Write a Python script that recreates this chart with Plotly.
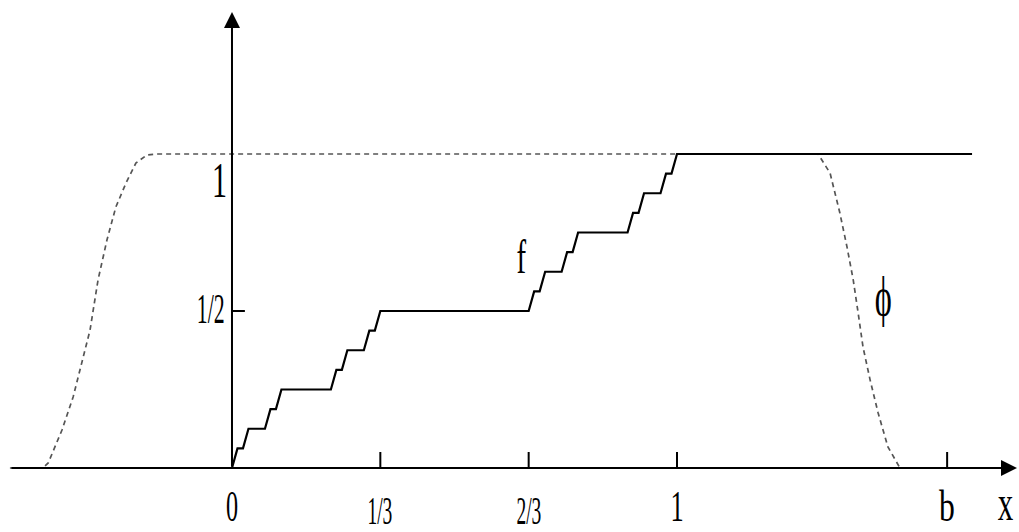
import json
import plotly.graph_objects as go

# Cantor function f (level-4 staircase), x in units of 1/81, y in units of 1/16
cantor_x81 = [0, 1, 2, 3, 6, 7, 8, 9, 18, 19, 20, 21, 24, 25, 26, 27,
              54, 55, 56, 57, 60, 61, 62, 63, 72, 73, 74, 75, 78, 79, 80, 81]
cantor_y16 = [0, 1, 1, 2, 2, 3, 3, 4, 4, 5, 5, 6, 6, 7, 7, 8,
              8, 9, 9, 10, 10, 11, 11, 12, 12, 13, 13, 14, 14, 15, 15, 16]
f_tail_x = [1.663]
f_tail_y = [1.0]

# cutoff function phi
phi_x = [-0.499, -0.425, -0.413, -0.382, -0.357, -0.337, -0.319, -0.301, -0.281,
         -0.261, -0.238, -0.216, -0.191, -0.169, 1.317, 1.344, 1.366, 1.382,
         1.396, 1.407, 1.418, 1.434, 1.452, 1.474, 1.501, 1.663]
phi_y = [0.0, 0.0, 0.016, 0.121, 0.226, 0.334, 0.439, 0.599, 0.726,
         0.831, 0.908, 0.971, 0.997, 1.0, 1.0, 0.939, 0.812, 0.704,
         0.599, 0.494, 0.385, 0.280, 0.175, 0.067, 0.0, 0.0]

b_value = 1.607
x_ticks = [1/3, 2/3, 1, b_value]
x_tick_labels = ["0", "1/3", "2/3", "1", "b"]
x_label_pos = [0, 1/3, 2/3, 1, b_value]
y_ticks = [0.5]
y_tick_labels = ["1/2", "1"]
y_label_pos = [0.5, 1]

x_axis_span = [-0.499, 1.764]
y_axis_top = 1.452

f_x = [v / 81 for v in cantor_x81] + f_tail_x
f_y = [v / 16 for v in cantor_y16] + f_tail_y

fig = go.Figure()
fig.add_trace(go.Scatter(x=phi_x, y=phi_y, mode="lines",
                         line=dict(color="#555555", width=1.7, dash="5px,4px"),
                         hoverinfo="skip", showlegend=False))
fig.add_trace(go.Scatter(x=f_x, y=f_y, mode="lines",
                         line=dict(color="black", width=2.2),
                         hoverinfo="skip", showlegend=False))

serif = "Liberation Serif, Times New Roman, serif"
ann = []
# axes with arrowheads
ann.append(dict(x=x_axis_span[1], y=0, ax=x_axis_span[0], ay=0, xref="x", yref="y",
                axref="x", ayref="y", showarrow=True, arrowhead=2, arrowsize=1.6,
                arrowwidth=2, arrowcolor="black", text=""))
ann.append(dict(x=0, y=y_axis_top, ax=0, ay=0, xref="x", yref="y",
                axref="x", ayref="y", showarrow=True, arrowhead=2, arrowsize=1.6,
                arrowwidth=2, arrowcolor="black", text=""))

shapes = []
for t in x_ticks:
    shapes.append(dict(type="line", xref="x", yref="y", x0=t, x1=t, y0=0, y1=0.051,
                       line=dict(color="black", width=2)))
for t in y_ticks:
    shapes.append(dict(type="line", xref="x", yref="y", x0=0, x1=0.029, y0=t, y1=t,
                       line=dict(color="black", width=2)))

# x labels
x_label_sizes = [44, 39, 39, 44, 44]
x_label_shift = [-38, -42, -42, -38, -38]
for lab, pos, sz, sh in zip(x_tick_labels, x_label_pos, x_label_sizes, x_label_shift):
    ann.append(dict(x=pos, y=0, xref="x", yref="y", text=lab, showarrow=False,
                    yshift=sh, font=dict(family=serif, size=sz, color="black")))
# y labels
ann.append(dict(x=0, y=y_label_pos[0], xref="x", yref="y", text=y_tick_labels[0],
                showarrow=False, xshift=-21, yshift=2,
                font=dict(family=serif, size=42, color="black")))
ann.append(dict(x=0, y=y_label_pos[1], xref="x", yref="y", text=y_tick_labels[1],
                showarrow=False, xshift=-12, yshift=-26,
                font=dict(family=serif, size=50, color="black")))
# curve labels
ann.append(dict(x=0.649, y=0.672, xref="x", yref="y", text="f", showarrow=False,
                font=dict(family=serif, size=48, color="black")))
ann.append(dict(x=1.463, y=0.545, xref="x", yref="y", text="ϕ", showarrow=False,
                font=dict(family=serif, size=54, color="black")))
ann.append(dict(x=1.739, y=0, xref="x", yref="y", text="x", showarrow=False,
                yshift=-35, font=dict(family=serif, size=50, color="black")))

fig.update_layout(
    width=1019, height=532,
    margin=dict(l=0, r=0, t=0, b=0),
    paper_bgcolor="white", plot_bgcolor="white",
    xaxis=dict(range=[-0.5213, 1.7685], visible=False, fixedrange=True),
    yaxis=dict(range=[-0.2038, 1.4904], visible=False, fixedrange=True),
    annotations=ann, shapes=shapes,
    showlegend=False,
)

# the reference typesetting is horizontally condensed; squeeze label glyphs
condense = {"0": 0.55, "1/3": 0.5, "2/3": 0.5, "1": 0.6, "b": 0.72,
            "1/2": 0.52, "f": 0.6, "ϕ": 0.6, "x": 0.62}
post = """
document.body.style.margin = '0';
var sc = %s;
document.querySelectorAll('.annotation-text').forEach(function (el) {
  var s = sc[el.textContent];
  if (s) {
    el.style.transformBox = 'fill-box';
    el.style.transformOrigin = 'center';
    el.style.transform = 'scale(' + s + ',1)';
  }
});
""" % json.dumps(condense, ensure_ascii=False)

fig.write_html("out.html", post_script=post, config={"displayModeBar": False})
